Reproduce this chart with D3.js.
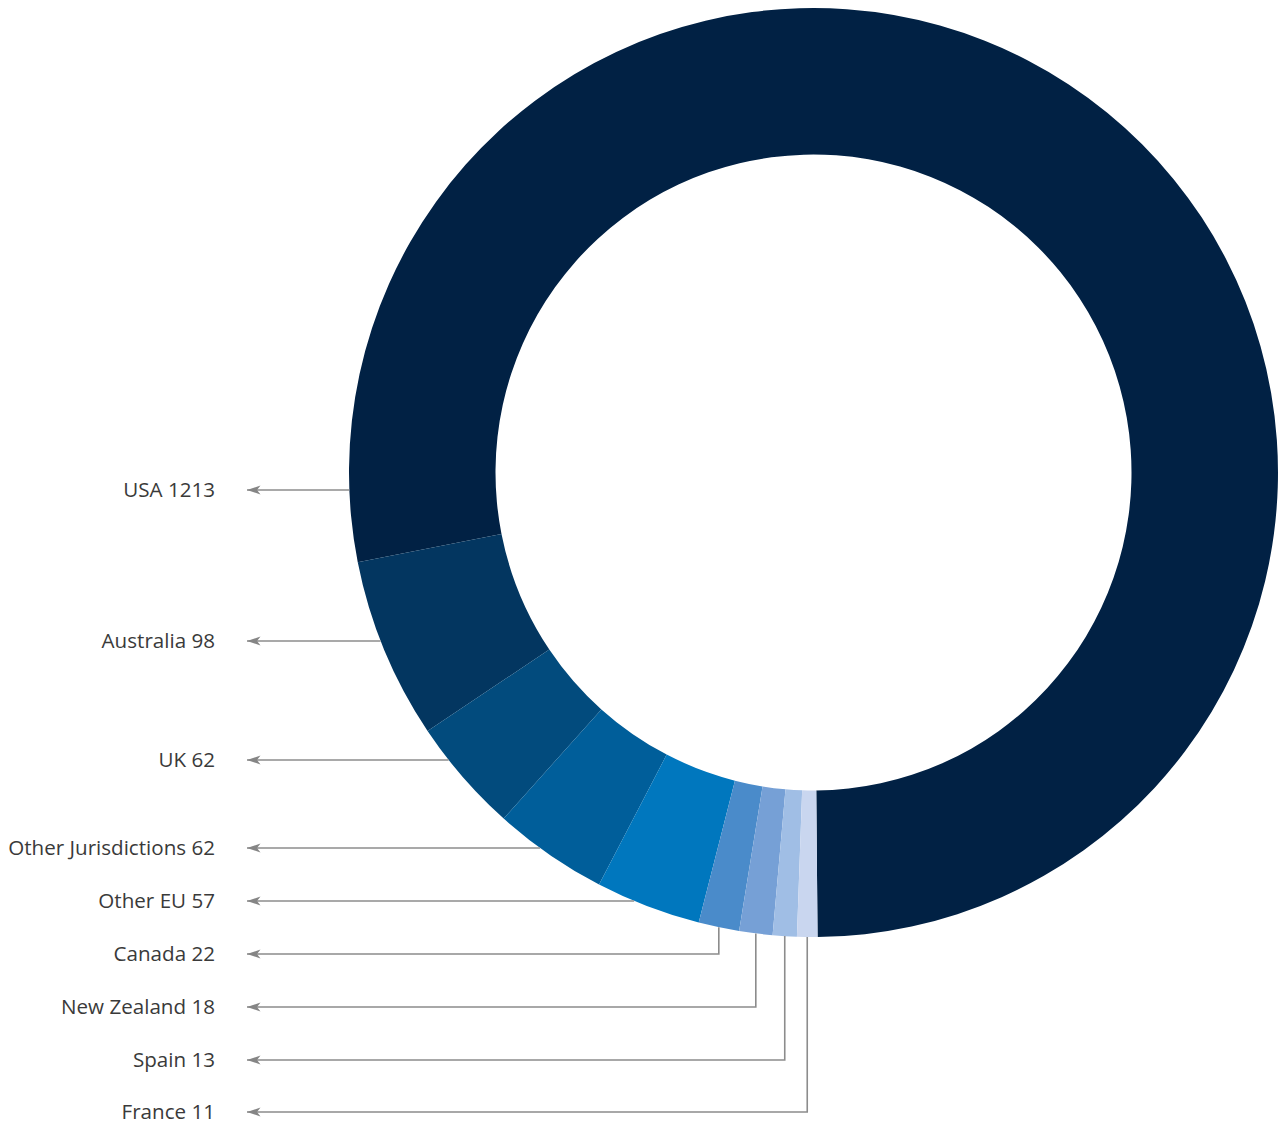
<!DOCTYPE html>
<html>
<head>
<meta charset="utf-8">
<script src="https://cdn.jsdelivr.net/npm/d3@7"></script>
<style>
  html, body { margin: 0; padding: 0; background: #ffffff; }
  svg { display: block; }
  text { font-family: "Open Sans", "Noto Sans", sans-serif; }
</style>
</head>
<body>
<svg id="chart" width="1284" height="1131"></svg>
<script>
// Entities by number of cases
const countries = ["USA", "Australia", "UK", "Other Jurisdictions", "Other EU",
                   "Canada", "New Zealand", "Spain", "France"];
const counts = [1213, 98, 62, 62, 57, 22, 18, 13, 11];
const sliceColors = ["#012144", "#033660", "#024b7d", "#005e9a", "#0077be",
                     "#4a8bca", "#76a0d6", "#a0bee5", "#c9d6ef"];

// Layout
const W = 1284, H = 1131;
const cx = 813.5, cy = 472.5;
const rOuter = 464.5, rInner = 318;
const startDeg = 179.5;            // slices run counter-clockwise from just left of 6 o'clock
const labelX = 215, tipX = 247;    // label right edge and arrow tip
const labelY = [490, 641, 760, 848, 901, 954, 1007, 1060, 1112];

const rows = countries.map((c, i) => ({ name: c, value: counts[i], color: sliceColors[i], ly: labelY[i] }));

const svg = d3.select("#chart");

// Notched arrowhead; its tip sits exactly on the end of the leader line
svg.append("defs").append("marker")
  .attr("id", "arrow")
  .attr("markerUnits", "userSpaceOnUse")
  .attr("viewBox", "0 0 14 10")
  .attr("refX", 14).attr("refY", 5)
  .attr("markerWidth", 14).attr("markerHeight", 10)
  .attr("orient", "auto")
  .append("path")
  .attr("d", "M14,5 L0.5,0.5 L4,5 L0.5,9.5 Z")
  .attr("fill", "#858585");

const a0 = startDeg * Math.PI / 180;
const pie = d3.pie().value(d => d.value).sort(null)
  .startAngle(a0 + 2 * Math.PI).endAngle(a0);
const arcs = pie(rows);

const arc = d3.arc().innerRadius(rInner).outerRadius(rOuter);

const g = svg.append("g").attr("transform", `translate(${cx},${cy})`);
g.selectAll("path.slice")
  .data(arcs)
  .join("path")
  .attr("class", "slice")
  .attr("d", arc)
  .attr("fill", d => d.data.color);

// Leader lines: horizontal when the label row meets the slice on the outer rim,
// otherwise an elbow dropping from the middle of the slice's outer edge.
function leaderPath(d) {
  const lo = Math.min(d.startAngle, d.endAngle), hi = Math.max(d.startAngle, d.endAngle);
  const y = d.data.ly;
  const dy = y - cy;
  if (Math.abs(dy) < rOuter) {
    const dx = Math.sqrt(rOuter * rOuter - dy * dy);
    let ang = Math.atan2(-dx, -dy);           // left-side rim point, d3 angle convention
    while (ang < lo) ang += 2 * Math.PI;
    while (ang > hi) ang -= 2 * Math.PI;
    if (ang >= lo && ang <= hi) {
      return `M${cx - dx},${y}H${tipX}`;
    }
  }
  const m = (lo + hi) / 2;
  const x0 = cx + rOuter * Math.sin(m);
  const y0 = cy - rOuter * Math.cos(m);
  return `M${x0},${y0}V${y}H${tipX}`;
}

svg.append("g").selectAll("path.leader")
  .data(arcs)
  .join("path")
  .attr("class", "leader")
  .attr("d", leaderPath)
  .attr("fill", "none")
  .attr("stroke", "#8c8c8c")
  .attr("stroke-width", 1.6)
  .attr("marker-end", "url(#arrow)");

svg.append("g").selectAll("text.label")
  .data(arcs)
  .join("text")
  .attr("class", "label")
  .attr("x", labelX)
  .attr("y", d => d.data.ly)
  .attr("dy", "0.35em")
  .attr("text-anchor", "end")
  .attr("font-size", 20.6)
  .attr("fill", "#3a3a3a")
  .text(d => `${d.data.name} ${d.data.value}`);
</script>
</body>
</html>
